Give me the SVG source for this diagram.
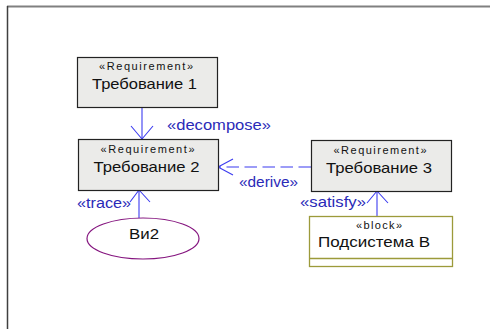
<svg xmlns="http://www.w3.org/2000/svg" width="490" height="329" viewBox="0 0 490 329">
<defs>
<style>
.req{fill:#ebebe9;stroke:#222;stroke-width:1.2}
.st{font-family:"Liberation Sans",Arial,sans-serif;font-size:11px;fill:#111}
.nm{font-family:"Liberation Sans",Arial,sans-serif;font-size:15px;fill:#111}
.ln{stroke:#3b3bf0;stroke-width:1.1;fill:none}
.lb{font-family:"Liberation Sans",Arial,sans-serif;font-size:15px;fill:#2a2ab8}
</style>
</defs>
<rect x="0" y="0" width="490" height="329" fill="#fff"/>
<path d="M7 6.5 H490" fill="none" stroke="#808080" stroke-width="2"/>
<path d="M7.5 6 V329" fill="none" stroke="#404040" stroke-width="1.5"/>
<g id="connectors">
<g id="decompose"><path class="ln" d="M142 107 V139"/><path class="ln" d="M131 126 L142 139 L153 126"/><text class="lb" x="167" y="129.5" textLength="104" lengthAdjust="spacingAndGlyphs">«decompose»</text></g>
<g id="derive"><path class="ln" d="M311 167 H218" stroke-dasharray="12.5,5.5"/><path class="ln" d="M233 159 L218 167 L233 175"/><text class="lb" x="239" y="187" textLength="59" lengthAdjust="spacingAndGlyphs">«derive»</text></g>
<g id="trace"><path class="ln" d="M139 218 V190"/><path class="ln" d="M130 202 L139 190 L150 202"/><text class="lb" x="77" y="208" textLength="54" lengthAdjust="spacingAndGlyphs">«trace»</text></g>
<g id="satisfy"><path class="ln" d="M377 216 V191"/><path class="ln" d="M367 203 L377 191 L388 203"/><text class="lb" x="300" y="207" textLength="66" lengthAdjust="spacingAndGlyphs">«satisfy»</text></g>
</g>
<g id="req1"><rect class="req" x="77.5" y="57.5" width="140" height="50"/><text class="st" x="99" y="70" textLength="94" lengthAdjust="spacing">«Requirement»</text><text class="nm" x="92" y="89" textLength="105" lengthAdjust="spacingAndGlyphs">Требование 1</text></g>
<g id="req2"><rect class="req" x="78.5" y="139.5" width="140" height="51"/><text class="st" x="100.5" y="152.5" textLength="94" lengthAdjust="spacing">«Requirement»</text><text class="nm" x="93.5" y="171.5" textLength="106" lengthAdjust="spacingAndGlyphs">Требование 2</text></g>
<g id="req3"><rect class="req" x="311.5" y="140.5" width="140" height="51"/><text class="st" x="333.5" y="154" textLength="93" lengthAdjust="spacing">«Requirement»</text><text class="nm" x="326" y="172.5" textLength="106" lengthAdjust="spacingAndGlyphs">Требование 3</text></g>
<g id="block"><rect x="309.5" y="216.5" width="143" height="50" fill="#fff" stroke="#9c9a3a" stroke-width="1.3"/><path d="M309.5 258.5 H452.5" stroke="#9c9a3a" stroke-width="1.3"/><text class="st" x="356" y="229" textLength="46" lengthAdjust="spacing">«block»</text><text class="nm" x="318" y="246.5" textLength="112" lengthAdjust="spacingAndGlyphs">Подсистема В</text></g>
<g id="vi2"><ellipse cx="143" cy="238.5" rx="56" ry="20.5" fill="#fff" stroke="#85157f" stroke-width="1.2"/><text class="nm" x="129" y="239" textLength="30" lengthAdjust="spacingAndGlyphs">Ви2</text></g>
</svg>
